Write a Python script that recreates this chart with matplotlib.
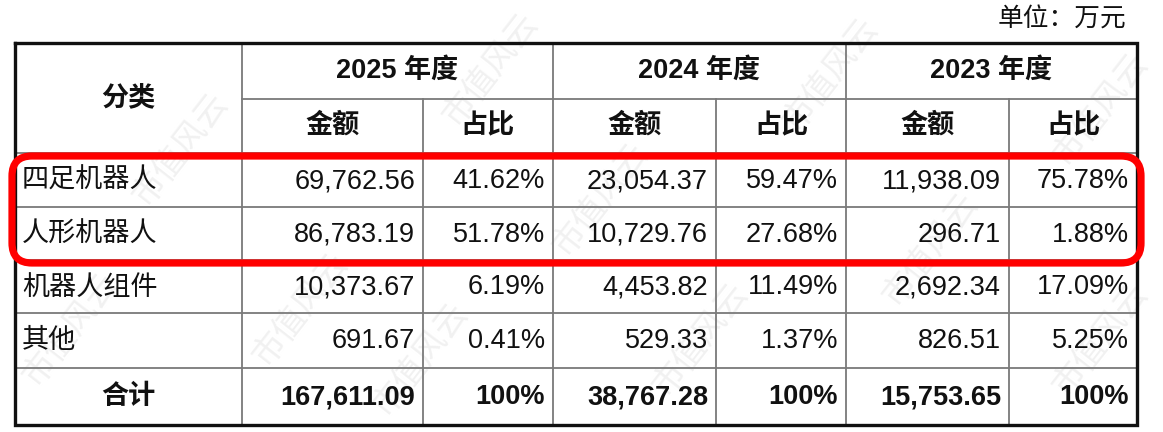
import matplotlib
matplotlib.use("Agg")
import matplotlib.pyplot as plt
from matplotlib.patches import FancyBboxPatch

plt.rcParams['font.family'] = ['Liberation Sans', 'Noto Sans CJK SC', 'DejaVu Sans']

# ---- data ----
unit_label = "单位：万元"
corner_label = "分类"
years = ["2025 年度", "2024 年度", "2023 年度"]
sub_headers = ["金额", "占比"]
categories = ["四足机器人", "人形机器人", "机器人组件", "其他"]
total_label = "合计"
amount_2025 = ["69,762.56", "86,783.19", "10,373.67", "691.67"]
share_2025 = ["41.62%", "51.78%", "6.19%", "0.41%"]
amount_2024 = ["23,054.37", "10,729.76", "4,453.82", "529.33"]
share_2024 = ["59.47%", "27.68%", "11.49%", "1.37%"]
amount_2023 = ["11,938.09", "296.71", "2,692.34", "826.51"]
share_2023 = ["75.78%", "1.88%", "17.09%", "5.25%"]
total_amounts = ["167,611.09", "38,767.28", "15,753.65"]
total_shares = ["100%", "100%", "100%"]
watermark = "市值风云"

# ---- layout (pixels) ----
W, H = 1163, 432
fig = plt.figure(figsize=(W / 100, H / 100), dpi=100)
ax = fig.add_axes([0, 0, 1, 1])
ax.set_xlim(0, W)
ax.set_ylim(H, 0)
ax.axis('off')

col_x = [15, 242, 423, 553, 716, 846, 1009, 1137]
row_y = [43, 99, 153, 207, 260, 313, 368, 425]
FS = 19.5
TXT = '#111111'
GRID = '#7a7a7a'

# watermark (faint)
for cx, cy in [(490, 70), (180, 150), (830, 75), (600, 200), (300, 310), (930, 250),
               (1100, 110), (700, 340), (420, 360), (1100, 340), (70, 330)]:
    ax.text(cx, cy, watermark, rotation=52, fontsize=24, color='#f1f1f1',
            ha='center', va='center', family=['Noto Sans CJK SC'], zorder=0)

# grid lines (inner)
for y in row_y[2:-1]:
    ax.plot([col_x[0], col_x[-1]], [y, y], color=GRID, lw=1.3, zorder=2)
ax.plot([col_x[1], col_x[-1]], [row_y[1], row_y[1]], color=GRID, lw=1.3, zorder=2)
for i, x in enumerate(col_x[1:-1], start=1):
    y0 = row_y[0] if i in (1, 3, 5) else row_y[1]
    ax.plot([x, x], [y0, row_y[-1]], color=GRID, lw=1.3, zorder=2)
# outer border
ax.plot([col_x[0], col_x[-1], col_x[-1], col_x[0], col_x[0]],
        [row_y[0], row_y[0], row_y[-1], row_y[-1], row_y[0]],
        color='#111111', lw=2.4, zorder=3, solid_joinstyle='miter')

# unit label
ax.text(1126, 20, unit_label, fontsize=FS - 1, color=TXT, ha='right', va='center')

# headers
ax.text((col_x[0] + col_x[1]) / 2, (row_y[0] + row_y[2]) / 2, corner_label,
        fontsize=FS, fontweight='bold', color=TXT, ha='center', va='center')
for k, yr in enumerate(years):
    xa, xb = col_x[1 + 2 * k], col_x[3 + 2 * k]
    ax.text((xa + xb) / 2, (row_y[0] + row_y[1]) / 2, yr, fontsize=FS,
            fontweight='bold', color=TXT, ha='center', va='center')
    for j, sh in enumerate(sub_headers):
        xl, xr = col_x[1 + 2 * k + j], col_x[2 + 2 * k + j]
        ax.text((xl + xr) / 2, (row_y[1] + row_y[2]) / 2, sh, fontsize=FS,
                fontweight='bold', color=TXT, ha='center', va='center')

# body
cols = [amount_2025, share_2025, amount_2024, share_2024, amount_2023, share_2023]
for r, cat in enumerate(categories):
    yc = (row_y[2 + r] + row_y[3 + r]) / 2 + 1
    ax.text(col_x[0] + 7, yc, cat, fontsize=FS, color=TXT, ha='left', va='center')
    for c, vals in enumerate(cols):
        ax.text(col_x[2 + c] - 8, yc, vals[r], fontsize=FS, color=TXT,
                ha='right', va='center')

# total row
yc = (row_y[6] + row_y[7]) / 2 + 1
ax.text((col_x[0] + col_x[1]) / 2, yc, total_label, fontsize=FS, fontweight='bold',
        color=TXT, ha='center', va='center')
for k in range(3):
    ax.text(col_x[2 + 2 * k] - 8, yc, total_amounts[k], fontsize=FS, fontweight='bold',
            color=TXT, ha='right', va='center')
    ax.text(col_x[3 + 2 * k] - 8, yc, total_shares[k], fontsize=FS, fontweight='bold',
            color=TXT, ha='right', va='center')

# red highlight box
box = FancyBboxPatch((12 + 20, 156 + 20), 1141 - 12 - 40, 263 - 156 - 40,
                     boxstyle="round,pad=20", fill=False, ec='#ff0000', lw=5.2,
                     zorder=5)
ax.add_patch(box)

fig.savefig('out.png', dpi=100)
